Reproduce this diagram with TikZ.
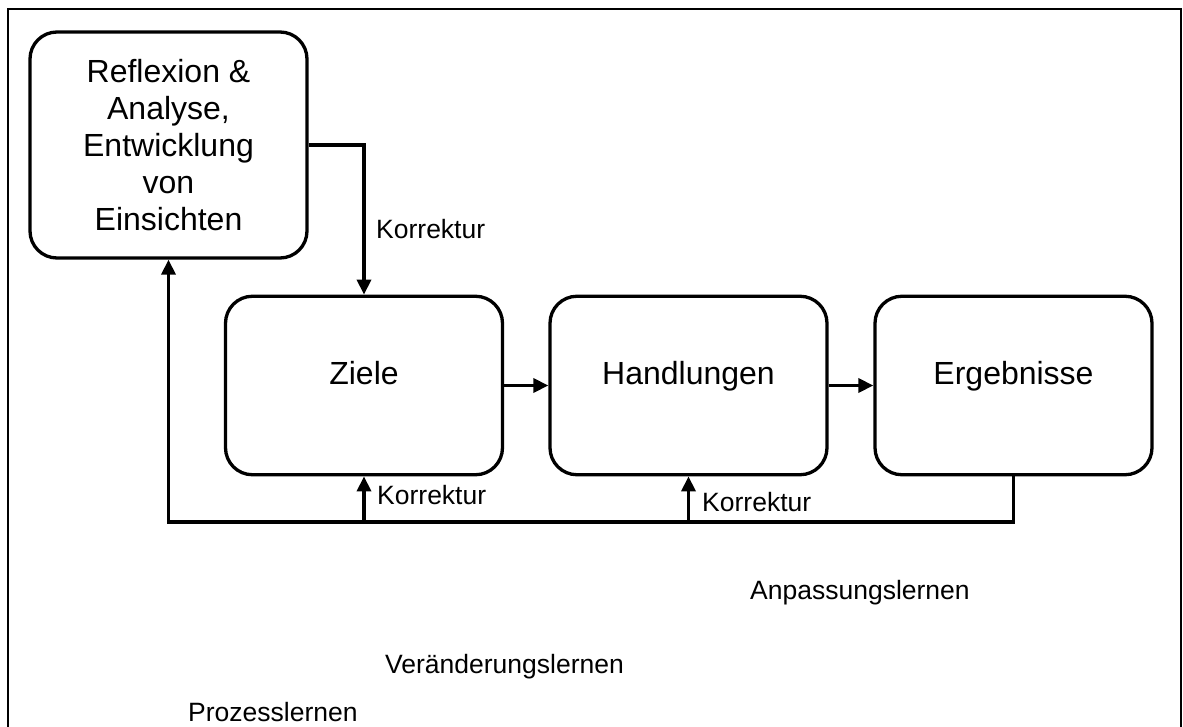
\documentclass[tikz,border=0pt]{standalone}
\usepackage{fontspec}
\setmainfont{Liberation Sans}
\usetikzlibrary{arrows.meta}

\begin{document}
\begin{tikzpicture}[x=1pt,y=-1pt,
  stage/.style={draw, line width=3.3pt, rounded corners=27pt,
    minimum width=277pt, align=center,
    font=\fontsize{32}{36.8}\selectfont},
  flowline/.style={line width=3.5pt},
  flowarrow/.style={flowline, -{Triangle[length=15pt,width=14pt]}},
  note/.style={inner sep=0pt, anchor=base west,
    font=\fontsize{26.5}{30}\selectfont}]

\useasboundingbox (0,0) rectangle (1183,727);

% open frame around the diagram
\draw[line width=1.4pt] (8,727) -- (8,9) -- (1181,9) -- (1181,727);

% stages of the learning cycle
\node[stage, minimum height=226pt] (refl) at (168.5,145)
  {Reflexion \&\\Analyse,\\Entwicklung\\von\\Einsichten};
\node[stage, minimum height=178.5pt, text height=10pt, text depth=12pt]
  (ziele) at (364,385.5) {Ziele};
\node[stage, minimum height=178.5pt, text height=10pt, text depth=12pt]
  (hand) at (688.5,385.5) {Handlungen};
\node[stage, minimum height=178.5pt, text height=10pt, text depth=12pt]
  (erg) at (1013.5,385.5) {Ergebnisse};

% level of the feedback line
\coordinate (fb) at (0,522);

% forward flow
\draw[flowarrow] (ziele.east) -- (hand.west);
\draw[flowarrow] (hand.east) -- (erg.west);
\draw[flowarrow] (refl.east) -| (ziele.north);

% feedback loops
\draw[flowarrow] (erg.south) -- (erg.south |- fb) -- (refl.south |- fb)
  -- (refl.south);
\draw[flowarrow] (ziele.south |- fb) -- (ziele.south);
\draw[flowarrow] (hand.south |- fb) -- (hand.south);

% labels
\node[note] (k1) at (376,239) {Korrektur};
\node[note] (k2) at (377,504.5) {Korrektur};
\node[note] (k3) at (702,511) {Korrektur};

\node[note] (l1) at (750,599) {Anpassungslernen};
\node[note] (l2) at (385,673) {Veränderungslernen};
\node[note] (l3) at (188,721) {Prozesslernen};
\end{tikzpicture}
\end{document}
